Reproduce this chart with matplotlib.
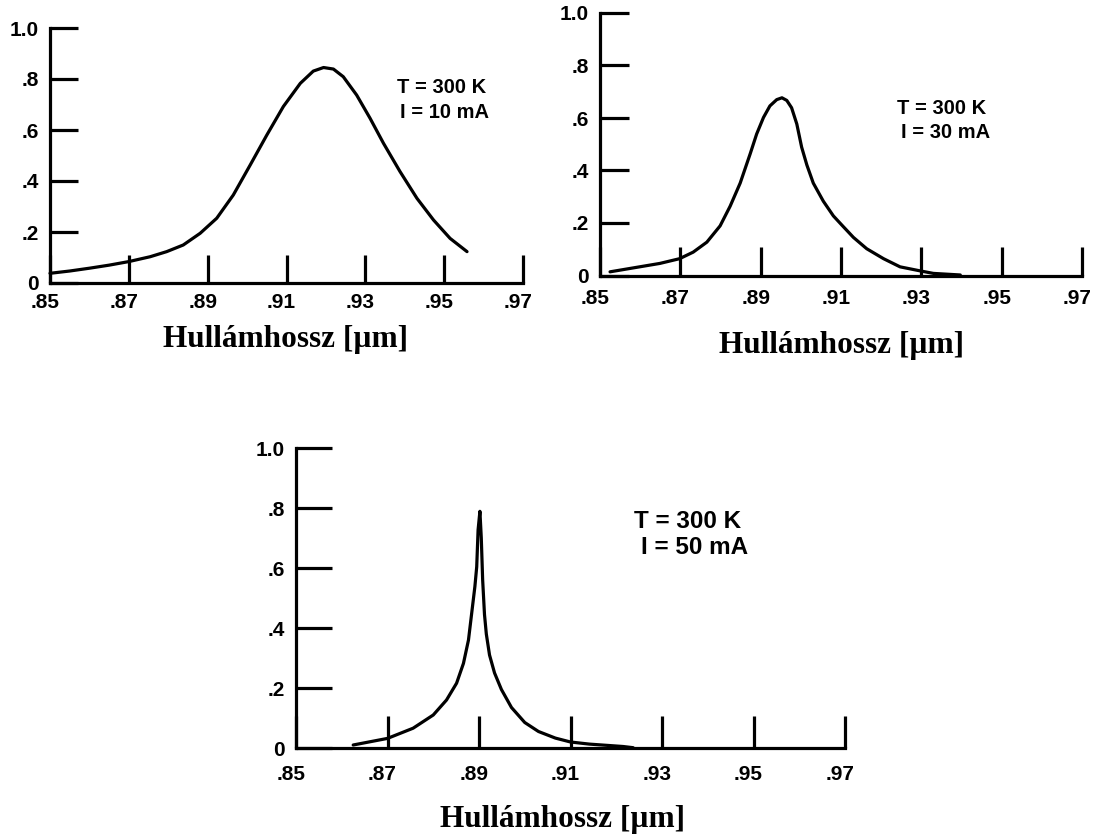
import matplotlib
matplotlib.use("Agg")
import matplotlib.pyplot as plt
from matplotlib.transforms import ScaledTranslation

# ---------------- data ----------------
x_ticks = [0.85, 0.87, 0.89, 0.91, 0.93, 0.95, 0.97]
x_tick_labels = [".85", ".87", ".89", ".91", ".93", ".95", ".97"]
y_ticks = [0.0, 0.2, 0.4, 0.6, 0.8, 1.0]
y_tick_labels = ["0", ".2", ".4", ".6", ".8", "1.0"]
x_label = "Hullámhossz [µm]"

# T = 300 K, I = 10 mA
wl_10 = [0.850, 0.855, 0.860, 0.865, 0.870, 0.8754, 0.8796, 0.8838, 0.8881, 0.8923,
         0.8965, 0.9008, 0.9050, 0.9092, 0.9135, 0.9168, 0.9194, 0.9219, 0.9244, 0.9278,
         0.9312, 0.9346, 0.9388, 0.9431, 0.9473, 0.9515, 0.9558]
int_10 = [0.038, 0.047, 0.058, 0.070, 0.084, 0.103, 0.123, 0.149, 0.195, 0.254,
          0.345, 0.463, 0.580, 0.692, 0.783, 0.831, 0.845, 0.839, 0.809, 0.737,
          0.646, 0.548, 0.437, 0.332, 0.247, 0.175, 0.123]

# T = 300 K, I = 30 mA
wl_30 = [0.8525, 0.8583, 0.8649, 0.8698, 0.8732, 0.8766, 0.8799, 0.8824, 0.8849, 0.8874,
         0.8890, 0.8907, 0.8923, 0.8940, 0.8953, 0.8965, 0.8977, 0.8990, 0.9002, 0.9015,
         0.9031, 0.9056, 0.9081, 0.9104, 0.9131, 0.9164, 0.9206, 0.9247, 0.9299, 0.9330,
         0.9397]
int_30 = [0.014, 0.029, 0.046, 0.064, 0.089, 0.127, 0.189, 0.264, 0.352, 0.464,
          0.539, 0.602, 0.646, 0.670, 0.677, 0.667, 0.639, 0.577, 0.489, 0.421,
          0.352, 0.283, 0.227, 0.189, 0.145, 0.102, 0.064, 0.033, 0.017, 0.008,
          0.002]

# T = 300 K, I = 50 mA
wl_50 = [0.8625, 0.8700, 0.8756, 0.8800, 0.8829, 0.8851, 0.8866, 0.8877, 0.8884, 0.8891,
         0.8895, 0.8898, 0.8902, 0.8905, 0.8908, 0.8912, 0.8916, 0.8923, 0.8934, 0.8949,
         0.8971, 0.9000, 0.9030, 0.9067, 0.9100, 0.9141, 0.9215, 0.9237]
int_50 = [0.010, 0.032, 0.066, 0.110, 0.160, 0.216, 0.282, 0.360, 0.449, 0.538,
          0.604, 0.727, 0.789, 0.700, 0.560, 0.445, 0.380, 0.310, 0.250, 0.195,
          0.135, 0.085, 0.055, 0.033, 0.020, 0.013, 0.005, 0.001]

ann_T = "T = 300 K"
ann_I = ["I = 10 mA", "I = 30 mA", "I = 50 mA"]

# ---------------- layout ----------------
W, H = 1095, 834
fig = plt.figure(figsize=(W / 100, H / 100), dpi=100)
fig.patch.set_facecolor("white")

def frac(px, py):
    return px / W, 1 - py / H

def make_axes(left, right, top, bottom):
    return fig.add_axes([left / W, 1 - bottom / H, (right - left) / W, (bottom - top) / H])

panels = [
    dict(box=(50, 523, 28, 283), wl=wl_10, it=int_10, I=ann_I[0],
         tpos=(397, 87.5), ipos=(400, 112), lab=(286, 340), asz=14.5,
         xtl=20, ytl=20, xpad=7),
    dict(box=(600, 1082, 13, 275.5), wl=wl_30, it=int_30, I=ann_I[1],
         tpos=(897, 108.5), ipos=(901, 132), lab=(842, 346), asz=14.5,
         xtl=21, ytl=21, xpad=10),
    dict(box=(296, 845, 448, 748), wl=wl_50, it=int_50, I=ann_I[2],
         tpos=(634, 521), ipos=(641, 548), lab=(563, 820), asz=17.5,
         xtl=23, ytl=26, xpad=12),
]

sans = ["Liberation Sans", "DejaVu Sans"]
serif = ["Liberation Serif", "DejaVu Serif"]
lw = 2.3

for p in panels:
    l, r, t, b = p["box"]
    ax = make_axes(l, r, t, b)
    ax.plot(p["wl"], p["it"], color="black", lw=lw, solid_capstyle="round",
            solid_joinstyle="round", clip_on=False)
    ax.set_xlim(0.85, 0.97)
    ax.set_ylim(0.0, 1.0)
    for s in ["top", "right"]:
        ax.spines[s].set_visible(False)
    for s in ["left", "bottom"]:
        ax.spines[s].set_linewidth(lw)
        ax.spines[s].set_capstyle("projecting")
    ax.set_xticks(x_ticks)
    ax.set_xticklabels(x_tick_labels)
    ax.set_yticks(y_ticks)
    ax.set_yticklabels(y_tick_labels)
    ax.tick_params(axis="both", direction="in", width=lw, labelsize=15, color="black")
    ax.tick_params(axis="x", length=p["xtl"], pad=p["xpad"])
    ax.tick_params(axis="y", length=p["ytl"], pad=8)
    off = ScaledTranslation(-5 / 100, 0, fig.dpi_scale_trans)
    for lbl in ax.get_xticklabels():
        lbl.set_fontfamily(sans)
        lbl.set_fontweight("bold")
        lbl.set_transform(lbl.get_transform() + off)
    for lbl in ax.get_yticklabels():
        lbl.set_fontfamily(sans)
        lbl.set_fontweight("bold")
    ax.patch.set_alpha(0)

    fx, fy = frac(*p["tpos"])
    fig.text(fx, fy, ann_T, ha="left", va="center", fontsize=p["asz"],
             family=sans, fontweight="bold")
    fx, fy = frac(*p["ipos"])
    fig.text(fx, fy, p["I"], ha="left", va="center", fontsize=p["asz"],
             family=sans, fontweight="bold")
    fx, fy = frac(*p["lab"])
    fig.text(fx, fy, x_label, ha="center", va="center", fontsize=22.5,
             family=serif, fontweight="bold")

fig.savefig("out.png", dpi=100, facecolor="white")
